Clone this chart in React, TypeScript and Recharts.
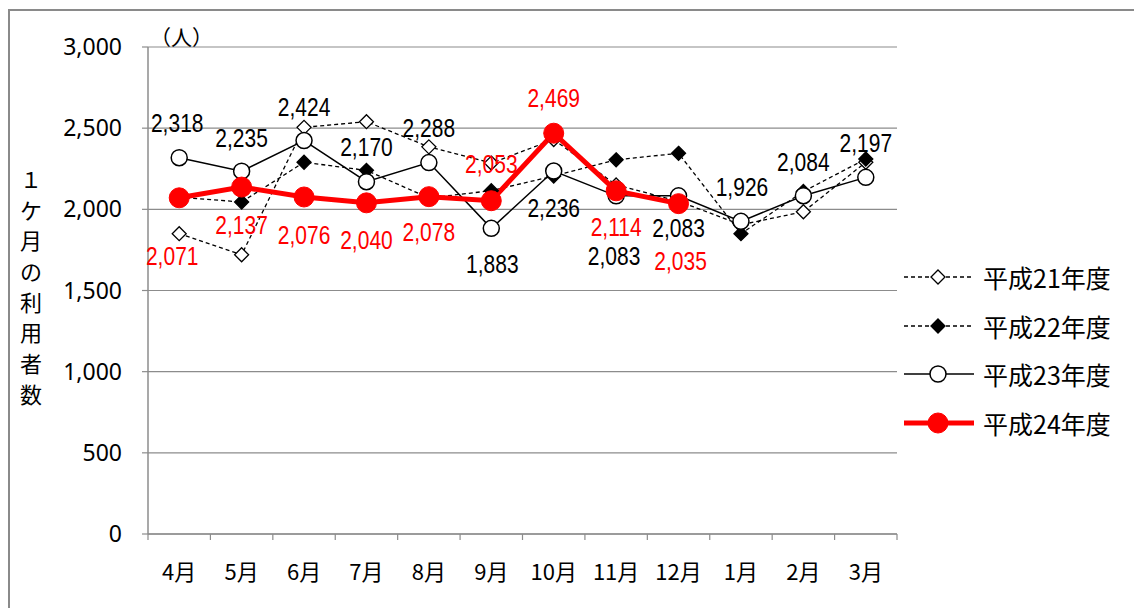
import React from "react";
import { LineChart, Line, XAxis, YAxis, CartesianGrid, LabelList } from "recharts";

const MONTHS = ["4月", "5月", "6月", "7月", "8月", "9月", "10月", "11月", "12月", "1月", "2月", "3月"];
const H21 = [1850, 1720, 2505, 2540, 2385, 2285, 2430, 2150, 2050, 1905, 1985, 2290];
const H22 = [2075, 2045, 2290, 2240, 2070, 2115, 2205, 2305, 2345, 1850, 2110, 2310];
const H23 = [2318, 2235, 2424, 2170, 2288, 1883, 2236, 2083, 2083, 1926, 2084, 2197];
const H24 = [2071, 2137, 2076, 2040, 2078, 2053, 2469, 2114, 2035, null, null, null];
const Y_TICKS = [0, 500, 1000, 1500, 2000, 2500, 3000];
const SERIES_NAMES = ["平成21年度", "平成22年度", "平成23年度", "平成24年度"];
const Y_TITLE = "１ケ月の利用者数";

// where each data label sits relative to its point
const H23_LABEL_DX = [-2, 0, 0, 0, 0, 1, 0, -2, 0, 1, 0, 0];
const H23_LABEL_DY = [-34, -33, -33, -34, -34, 36, 37, 60, 32, -34, -33, -34];
const H24_LABEL_DX = [-7, 0, 0, 0, 0, 0, 0, 0, 2];
const H24_LABEL_DY = [59, 38, 38, 37, 36, -36, -35, 37, 58];

const PLOT_LEFT = 148;
const PLOT_RIGHT = 897;
const BAND = (PLOT_RIGHT - PLOT_LEFT) / MONTHS.length;
const RED = "#ff0000";
const GRID = "#8c8c8c";
const LABEL_FONT = "'Liberation Sans', Arial, sans-serif";
const CJK_FONT = "'Noto Sans CJK JP', 'Noto Sans', sans-serif";

const data = MONTHS.map((m, i) => ({
  x: i + 0.5,
  month: m,
  h21: H21[i],
  h22: H22[i],
  h23: H23[i],
  h24: H24[i],
}))

function Diamond({ cx, cy, fill, size = 7 }: any) {
  if (cx == null || cy == null) return null
  return (
    <path
      d={`M${cx},${cy - size}L${cx + size},${cy}L${cx},${cy + size}L${cx - size},${cy}Z`}
      fill={fill}
      stroke="#000"
      strokeWidth={1.3}
      strokeDasharray="none"
    />
  )
}

function Circle({ cx, cy, r, fill, stroke, strokeWidth }: any) {
  if (cx == null || cy == null) return null
  return <circle cx={cx} cy={cy} r={r} fill={fill} stroke={stroke} strokeWidth={strokeWidth} />
}

// labels are drawn a bit narrow, like the original's condensed digits
const makeLabel = (color: string, dxs: number[], dys: number[]) => (props: any) => {
  const { x, y, value, index } = props
  if (value == null || x == null) return null
  return (
    <text
      transform={`translate(${x + (dxs[index] ?? 0)},${y + (dys[index] ?? 0)}) scale(0.84,1)`}
      textAnchor="middle"
      dominantBaseline="central"
      fill={color}
      fontSize={25}
      fontFamily={LABEL_FONT}
    >
      {Number(value).toLocaleString("en-US")}
    </text>
  )
}

function MonthTick(props: any) {
  const { x, y, payload } = props
  const i = payload.value
  if (i >= MONTHS.length) return <g />
  return (
    <text
      x={x + BAND / 2}
      y={y + 28}
      textAnchor="middle"
      dominantBaseline="central"
      fontSize={22}
      fontFamily={CJK_FONT}
      fill="#000"
    >
      {MONTHS[i]}
    </text>
  )
}

function LegendIcon({ kind }: { kind: number }) {
  const y = 12
  return (
    <svg width={72} height={24}>
      {kind === 0 && (
        <>
          <line x1={0} x2={70} y1={y} y2={y} stroke="#000" strokeWidth={1.3} strokeDasharray="4 3" />
          <Diamond cx={34} cy={y} fill="#fff" />
        </>
      )}
      {kind === 1 && (
        <>
          <line x1={0} x2={70} y1={y} y2={y} stroke="#000" strokeWidth={1.3} strokeDasharray="4 3" />
          <Diamond cx={34} cy={y} fill="#000" />
        </>
      )}
      {kind === 2 && (
        <>
          <line x1={0} x2={70} y1={y} y2={y} stroke="#000" strokeWidth={1.5} />
          <Circle cx={34} cy={y} r={8} fill="#fff" stroke="#000" strokeWidth={1.5} />
        </>
      )}
      {kind === 3 && (
        <>
          <line x1={0} x2={70} y1={y} y2={y} stroke={RED} strokeWidth={5} />
          <Circle cx={34} cy={y} r={10} fill={RED} stroke={RED} strokeWidth={1} />
        </>
      )}
    </svg>
  )
}

export default function App() {
  return (
    <div style={{ position: "absolute", left: 0, top: 0, width: 1134, height: 608, background: "#fff", overflow: "hidden" }}>
      {/* outer frame */}
      <div style={{ position: "absolute", left: 8, top: 9, width: 1200, height: 700, border: "2px solid #8a8a8a" }} />

      <LineChart
        width={1134}
        height={608}
        data={data}
        margin={{ top: 47, right: 1134 - PLOT_RIGHT, bottom: 34, left: PLOT_LEFT - 80 }}
        style={{ position: "absolute", left: 0, top: 0 }}
      >
        <CartesianGrid vertical={false} stroke={GRID} strokeWidth={1.2} />
        <XAxis
          type="number"
          dataKey="x"
          domain={[0, MONTHS.length]}
          ticks={MONTHS.map((_, i) => i).concat([MONTHS.length])}
          interval={0}
          height={40}
          axisLine={{ stroke: GRID, strokeWidth: 1.5 }}
          tickLine={{ stroke: GRID, strokeWidth: 1.2 }}
          tickSize={6}
          tick={<MonthTick />}
        />
        <YAxis
          width={80}
          domain={[0, 3000]}
          ticks={Y_TICKS}
          interval={0}
          axisLine={{ stroke: GRID, strokeWidth: 1.5 }}
          tickLine={{ stroke: GRID, strokeWidth: 1.2 }}
          tickSize={6}
          tickMargin={20}
          tickFormatter={(v: number) => v.toLocaleString("en-US")}
          tick={{ fontSize: 23, fill: "#000", fontFamily: "'Noto Sans', sans-serif" }}
        />
        <Line
          dataKey="h21"
          stroke="#000"
          strokeWidth={1.3}
          strokeDasharray="4 3"
          dot={(p: any) => <Diamond key={`a${p.index}`} cx={p.cx} cy={p.cy} fill="#fff" />}
          isAnimationActive={false}
        />
        <Line
          dataKey="h22"
          stroke="#000"
          strokeWidth={1.3}
          strokeDasharray="4 3"
          dot={(p: any) => <Diamond key={`b${p.index}`} cx={p.cx} cy={p.cy} fill="#000" />}
          isAnimationActive={false}
        />
        <Line
          dataKey="h23"
          stroke="#000"
          strokeWidth={1.5}
          dot={(p: any) => <Circle key={`c${p.index}`} cx={p.cx} cy={p.cy} r={8} fill="#fff" stroke="#000" strokeWidth={1.5} />}
          isAnimationActive={false}
        >
          <LabelList dataKey="h23" content={makeLabel("#000", H23_LABEL_DX, H23_LABEL_DY)} />
        </Line>
        <Line
          dataKey="h24"
          stroke={RED}
          strokeWidth={5}
          dot={(p: any) => <Circle key={`d${p.index}`} cx={p.cx} cy={p.cy} r={10} fill={RED} stroke={RED} strokeWidth={1} />}
          isAnimationActive={false}
        >
          <LabelList dataKey="h24" content={makeLabel(RED, H24_LABEL_DX, H24_LABEL_DY)} />
        </Line>
      </LineChart>

      {/* unit */}
      <div style={{ position: "absolute", left: 150, top: 21, fontSize: 21, fontFamily: CJK_FONT, lineHeight: "30px", whiteSpace: "nowrap" }}>
        （人）
      </div>

      {/* vertical axis title */}
      <div style={{ position: "absolute", left: 17, top: 163, width: 28, fontFamily: CJK_FONT, fontSize: 22, textAlign: "center" }}>
        {Array.from(Y_TITLE).map((ch, i) => (
          <div key={i} style={{ height: 30.7, lineHeight: "30.7px" }}>{ch}</div>
        ))}
      </div>

      {/* legend */}
      <div style={{ position: "absolute", left: 904, top: 253 }}>
        {SERIES_NAMES.map((name, i) => (
          <div key={name} style={{ display: "flex", alignItems: "center", height: 48.5 }}>
            <LegendIcon kind={i} />
            <span style={{ marginLeft: 7, fontSize: 25, fontFamily: CJK_FONT, lineHeight: "30px" }}>{name}</span>
          </div>
        ))}
      </div>
    </div>
  )
}
